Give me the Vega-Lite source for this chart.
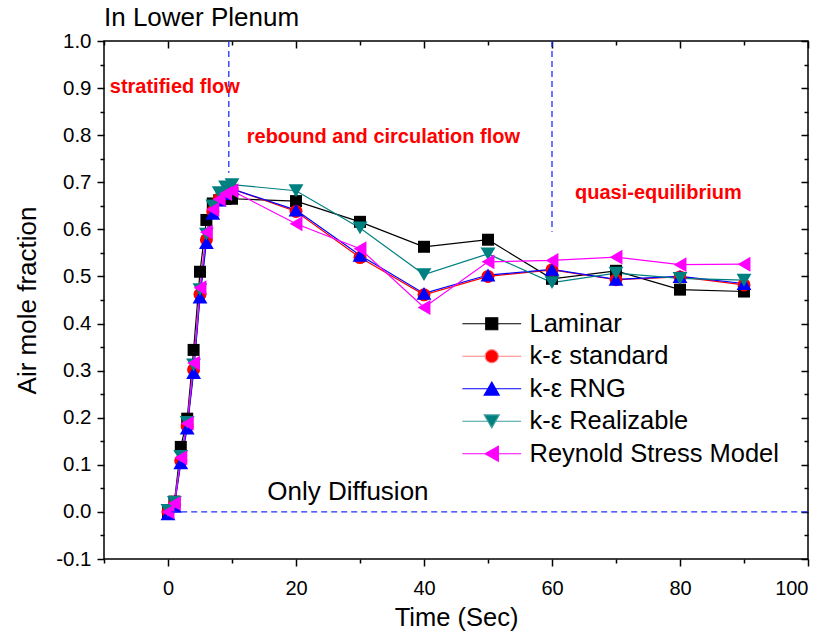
{
  "$schema": "https://vega.github.io/schema/vega-lite/v6.json",
  "width": 704,
  "height": 518,
  "autosize": {"type": "none"},
  "padding": {"left": 104, "top": 41, "right": 19, "bottom": 79},
  "config": {
    "font": "Liberation Sans",
    "view": {"stroke": "black", "strokeWidth": 1.5},
    "axis": {"grid": false, "domain": false, "tickColor": "black", "tickWidth": 1.5, "labelColor": "black", "titleColor": "black", "labelFont": "Liberation Sans", "titleFont": "Liberation Sans", "titleFontWeight": "normal"}
  },
  "datasets": {
    "series": [
      {"series": "Laminar", "t": 0, "v": 0}, {"series": "Laminar", "t": 1, "v": 0.022}, {"series": "Laminar", "t": 2, "v": 0.138}, {"series": "Laminar", "t": 3, "v": 0.198}, {"series": "Laminar", "t": 4, "v": 0.344}, {"series": "Laminar", "t": 5, "v": 0.51}, {"series": "Laminar", "t": 6, "v": 0.62}, {"series": "Laminar", "t": 7, "v": 0.655}, {"series": "Laminar", "t": 8, "v": 0.662}, {"series": "Laminar", "t": 9, "v": 0.665}, {"series": "Laminar", "t": 10, "v": 0.665}, {"series": "Laminar", "t": 20, "v": 0.66}, {"series": "Laminar", "t": 30, "v": 0.616}, {"series": "Laminar", "t": 40, "v": 0.563}, {"series": "Laminar", "t": 50, "v": 0.578}, {"series": "Laminar", "t": 60, "v": 0.495}, {"series": "Laminar", "t": 70, "v": 0.512}, {"series": "Laminar", "t": 80, "v": 0.472}, {"series": "Laminar", "t": 90, "v": 0.468},
      {"series": "k-ε standard", "t": 0, "v": 0}, {"series": "k-ε standard", "t": 1, "v": 0.015}, {"series": "k-ε standard", "t": 2, "v": 0.108}, {"series": "k-ε standard", "t": 3, "v": 0.182}, {"series": "k-ε standard", "t": 4, "v": 0.302}, {"series": "k-ε standard", "t": 5, "v": 0.462}, {"series": "k-ε standard", "t": 6, "v": 0.578}, {"series": "k-ε standard", "t": 7, "v": 0.638}, {"series": "k-ε standard", "t": 8, "v": 0.665}, {"series": "k-ε standard", "t": 9, "v": 0.678}, {"series": "k-ε standard", "t": 10, "v": 0.686}, {"series": "k-ε standard", "t": 20, "v": 0.638}, {"series": "k-ε standard", "t": 30, "v": 0.54}, {"series": "k-ε standard", "t": 40, "v": 0.461}, {"series": "k-ε standard", "t": 50, "v": 0.5}, {"series": "k-ε standard", "t": 60, "v": 0.514}, {"series": "k-ε standard", "t": 70, "v": 0.493}, {"series": "k-ε standard", "t": 80, "v": 0.499}, {"series": "k-ε standard", "t": 90, "v": 0.482},
      {"series": "k-ε RNG", "t": 0, "v": -0.004}, {"series": "k-ε RNG", "t": 1, "v": 0.012}, {"series": "k-ε RNG", "t": 2, "v": 0.104}, {"series": "k-ε RNG", "t": 3, "v": 0.178}, {"series": "k-ε RNG", "t": 4, "v": 0.296}, {"series": "k-ε RNG", "t": 5, "v": 0.456}, {"series": "k-ε RNG", "t": 6, "v": 0.572}, {"series": "k-ε RNG", "t": 7, "v": 0.634}, {"series": "k-ε RNG", "t": 8, "v": 0.662}, {"series": "k-ε RNG", "t": 9, "v": 0.676}, {"series": "k-ε RNG", "t": 10, "v": 0.686}, {"series": "k-ε RNG", "t": 20, "v": 0.641}, {"series": "k-ε RNG", "t": 30, "v": 0.545}, {"series": "k-ε RNG", "t": 40, "v": 0.464}, {"series": "k-ε RNG", "t": 50, "v": 0.503}, {"series": "k-ε RNG", "t": 60, "v": 0.515}, {"series": "k-ε RNG", "t": 70, "v": 0.494}, {"series": "k-ε RNG", "t": 80, "v": 0.5}, {"series": "k-ε RNG", "t": 90, "v": 0.485},
      {"series": "k-ε Realizable", "t": 0, "v": 0.003}, {"series": "k-ε Realizable", "t": 1, "v": 0.02}, {"series": "k-ε Realizable", "t": 2, "v": 0.118}, {"series": "k-ε Realizable", "t": 3, "v": 0.19}, {"series": "k-ε Realizable", "t": 4, "v": 0.312}, {"series": "k-ε Realizable", "t": 5, "v": 0.472}, {"series": "k-ε Realizable", "t": 6, "v": 0.59}, {"series": "k-ε Realizable", "t": 7, "v": 0.65}, {"series": "k-ε Realizable", "t": 8, "v": 0.678}, {"series": "k-ε Realizable", "t": 9, "v": 0.69}, {"series": "k-ε Realizable", "t": 10, "v": 0.695}, {"series": "k-ε Realizable", "t": 20, "v": 0.682}, {"series": "k-ε Realizable", "t": 30, "v": 0.603}, {"series": "k-ε Realizable", "t": 40, "v": 0.504}, {"series": "k-ε Realizable", "t": 50, "v": 0.548}, {"series": "k-ε Realizable", "t": 60, "v": 0.487}, {"series": "k-ε Realizable", "t": 70, "v": 0.507}, {"series": "k-ε Realizable", "t": 80, "v": 0.496}, {"series": "k-ε Realizable", "t": 90, "v": 0.492},
      {"series": "Reynold Stress Model", "t": 0, "v": 0}, {"series": "Reynold Stress Model", "t": 1, "v": 0.018}, {"series": "Reynold Stress Model", "t": 2, "v": 0.115}, {"series": "Reynold Stress Model", "t": 3, "v": 0.188}, {"series": "Reynold Stress Model", "t": 4, "v": 0.316}, {"series": "Reynold Stress Model", "t": 5, "v": 0.476}, {"series": "Reynold Stress Model", "t": 6, "v": 0.594}, {"series": "Reynold Stress Model", "t": 7, "v": 0.642}, {"series": "Reynold Stress Model", "t": 8, "v": 0.664}, {"series": "Reynold Stress Model", "t": 9, "v": 0.676}, {"series": "Reynold Stress Model", "t": 10, "v": 0.682}, {"series": "Reynold Stress Model", "t": 20, "v": 0.612}, {"series": "Reynold Stress Model", "t": 30, "v": 0.559}, {"series": "Reynold Stress Model", "t": 40, "v": 0.434}, {"series": "Reynold Stress Model", "t": 50, "v": 0.531}, {"series": "Reynold Stress Model", "t": 60, "v": 0.534}, {"series": "Reynold Stress Model", "t": 70, "v": 0.541}, {"series": "Reynold Stress Model", "t": 80, "v": 0.525}, {"series": "Reynold Stress Model", "t": 90, "v": 0.526}
    ],
    "vlines": [
      {"x": 9.5, "y": 1.0, "y2": 0.72},
      {"x": 60, "y": 1.0, "y2": 0.595}
    ],
    "hline": [
      {"x": 0.5, "x2": 100, "y": 0}
    ],
    "redtext": [
      {"x": -9.1, "y": 0.902, "label": "stratified flow"},
      {"x": 12.3, "y": 0.796, "label": "rebound and circulation flow"},
      {"x": 63.6, "y": 0.677, "label": "quasi-equilibrium"}
    ],
    "blacktext": [
      {"x": 15.5, "y": 0.042, "label": "Only Diffusion"},
      {"x": -10, "y": 1.049, "label": "In Lower Plenum"}
    ]
  },
  "resolve": {"axis": {"x": "independent", "y": "independent"}},
  "layer": [
    {
      "data": {"name": "series"},
      "mark": {"type": "line", "strokeWidth": 1.2},
      "encoding": {
        "x": {"field": "t", "type": "quantitative", "scale": {"domain": [-10, 100], "nice": false, "zero": false},
          "axis": {"orient": "bottom", "values": [0, 20, 40, 60, 80, 100], "tickSize": 7, "labelFontSize": 20, "labelPadding": 12, "title": "Time (Sec)", "titleFontSize": 25.5, "titlePadding": 7}},
        "y": {"field": "v", "type": "quantitative", "scale": {"domain": [-0.1, 1.0], "nice": false, "zero": false},
          "axis": {"orient": "left", "values": [-0.1, 0, 0.1, 0.2, 0.3, 0.4, 0.5, 0.6, 0.7, 0.8, 0.9, 1.0], "labelExpr": "replace(format(datum.value, '.1f'), '\u2212', '-')", "tickSize": 7, "labelFontSize": 20.5, "labelPadding": 6, "title": "Air mole fraction", "titleFontSize": 26, "titlePadding": 15}},
        "color": {"field": "series", "type": "nominal",
          "scale": {"range": ["#000000", "#ff00ff", "#0000ff", "#008080", "#ff0000"]}, "legend": null}
      }
    },
    {
      "data": {"name": "series"},
      "transform": [{"filter": {"field": "series", "equal": "Laminar"}}],
      "mark": {"type": "point", "filled": true, "opacity": 1, "shape": "square", "size": 144, "color": "#000000"},
      "encoding": {
        "x": {"field": "t", "type": "quantitative", "scale": {"domain": [-10, 100], "nice": false, "zero": false},
          "axis": {"orient": "bottom", "values": [-10, 10, 30, 50, 70, 90], "tickSize": 4, "labels": false, "title": null}},
        "y": {"field": "v", "type": "quantitative", "scale": {"domain": [-0.1, 1.0], "nice": false, "zero": false},
          "axis": {"orient": "left", "values": [-0.05, 0.05, 0.15, 0.25, 0.35, 0.45, 0.55, 0.65, 0.75, 0.85, 0.95], "tickSize": 4, "labels": false, "title": null}}
      }
    },
    {
      "data": {"name": "series"},
      "transform": [{"filter": {"field": "series", "equal": "k-ε standard"}}],
      "mark": {"type": "point", "filled": true, "opacity": 1, "shape": "circle", "size": 169, "color": "#ff0000"},
      "encoding": {
        "x": {"field": "t", "type": "quantitative", "scale": {"domain": [-10, 100], "nice": false, "zero": false}, "axis": null},
        "y": {"field": "v", "type": "quantitative", "scale": {"domain": [-0.1, 1.0], "nice": false, "zero": false}, "axis": null}
      }
    },
    {
      "data": {"name": "series"},
      "transform": [{"filter": {"field": "series", "equal": "k-ε RNG"}}],
      "mark": {"type": "point", "filled": true, "opacity": 1, "shape": "triangle-up", "size": 220, "color": "#0000ff"},
      "encoding": {
        "x": {"field": "t", "type": "quantitative", "scale": {"domain": [-10, 100], "nice": false, "zero": false}, "axis": null},
        "y": {"field": "v", "type": "quantitative", "scale": {"domain": [-0.1, 1.0], "nice": false, "zero": false}, "axis": null}
      }
    },
    {
      "data": {"name": "series"},
      "transform": [{"filter": {"field": "series", "equal": "k-ε Realizable"}}],
      "mark": {"type": "point", "filled": true, "opacity": 1, "shape": "triangle-down", "size": 220, "color": "#008080"},
      "encoding": {
        "x": {"field": "t", "type": "quantitative", "scale": {"domain": [-10, 100], "nice": false, "zero": false}, "axis": null},
        "y": {"field": "v", "type": "quantitative", "scale": {"domain": [-0.1, 1.0], "nice": false, "zero": false}, "axis": null}
      }
    },
    {
      "data": {"name": "series"},
      "transform": [{"filter": {"field": "series", "equal": "Reynold Stress Model"}}],
      "mark": {"type": "point", "filled": true, "opacity": 1, "shape": "triangle-left", "size": 220, "color": "#ff00ff"},
      "encoding": {
        "x": {"field": "t", "type": "quantitative", "scale": {"domain": [-10, 100], "nice": false, "zero": false}, "axis": null},
        "y": {"field": "v", "type": "quantitative", "scale": {"domain": [-0.1, 1.0], "nice": false, "zero": false}, "axis": null}
      }
    },
    {
      "data": {"name": "series"},
      "mark": {"type": "point", "opacity": 0, "filled": true},
      "encoding": {
        "x": {"field": "t", "type": "quantitative", "scale": {"domain": [-10, 100], "nice": false, "zero": false}, "axis": null},
        "y": {"field": "v", "type": "quantitative", "scale": {"domain": [-0.1, 1.0], "nice": false, "zero": false}, "axis": null},
        "fill": {"field": "series", "type": "nominal",
          "scale": {"domain": ["Laminar", "k-ε standard", "k-ε RNG", "k-ε Realizable", "Reynold Stress Model"], "range": ["#000000", "#ff0000", "#0000ff", "#007f7f", "#ff00ff"]},
          "legend": {"title": null, "orient": "none", "legendX": 375, "legendY": 270, "padding": 0, "symbolSize": 144, "symbolStrokeWidth": 1.2, "symbolOpacity": 1, "labelFontSize": 25.5, "labelFont": "Liberation Sans", "labelColor": "black", "labelOffset": 25, "labelLimit": 400, "rowPadding": 5.5}},
        "stroke": {"field": "series", "type": "nominal",
          "scale": {"domain": ["Laminar", "k-ε standard", "k-ε RNG", "k-ε Realizable", "Reynold Stress Model"], "range": ["#000000", "#ff8080", "#0000ff", "#40a0a0", "#ff00ff"]},
          "legend": {"title": null, "orient": "none", "legendX": 375, "legendY": 270, "padding": 0, "symbolSize": 144, "symbolStrokeWidth": 1.2, "symbolOpacity": 1, "labelFontSize": 25.5, "labelFont": "Liberation Sans", "labelColor": "black", "labelOffset": 25, "labelLimit": 400, "rowPadding": 5.5}},
        "shape": {"field": "series", "type": "nominal",
          "scale": {"domain": ["Laminar", "k-ε standard", "k-ε RNG", "k-ε Realizable", "Reynold Stress Model"], "range": ["M-4.9,0H4.9M-1,-1H1V1H-1Z", "M-4.9,0H-1.1M1.1,0H4.9M-1.1,0A1.1,1.1,0,1,1,1.1,0A1.1,1.1,0,1,1,-1.1,0Z", "M-4.9,0H4.9M0,-1.1L1.25,1.05L-1.25,1.05Z", "M-4.9,0H-0.6M0.6,0H4.9M0,1.1L1.25,-1.05L-1.25,-1.05Z", "M-4.9,0H4.9M-1.1,0L1.1,-1.25L1.1,1.25Z"]},
          "legend": {"title": null, "orient": "none", "legendX": 375, "legendY": 270, "padding": 0, "symbolSize": 144, "symbolStrokeWidth": 1.2, "symbolOpacity": 1, "labelFontSize": 25.5, "labelFont": "Liberation Sans", "labelColor": "black", "labelOffset": 25, "labelLimit": 400, "rowPadding": 5.5}}
      }
    },
    {
      "data": {"name": "vlines"},
      "mark": {"type": "rule", "strokeDash": [6, 4], "color": "#1f2fff", "strokeWidth": 1.3},
      "encoding": {
        "x": {"field": "x", "type": "quantitative", "scale": {"domain": [-10, 100], "nice": false, "zero": false},
          "axis": {"orient": "top", "values": [0, 20, 40, 60, 80, 100], "tickSize": 7, "offset": -7, "labels": false, "title": null}},
        "y": {"field": "y", "type": "quantitative", "scale": {"domain": [-0.1, 1.0], "nice": false, "zero": false},
          "axis": {"orient": "right", "values": [-0.1, 0, 0.1, 0.2, 0.3, 0.4, 0.5, 0.6, 0.7, 0.8, 0.9, 1.0], "tickSize": 7, "offset": -7, "labels": false, "title": null}},
        "y2": {"field": "y2"}
      }
    },
    {
      "data": {"name": "hline"},
      "mark": {"type": "rule", "strokeDash": [6, 4], "color": "#1f2fff", "strokeWidth": 1.3},
      "encoding": {
        "x": {"field": "x", "type": "quantitative", "scale": {"domain": [-10, 100], "nice": false, "zero": false},
          "axis": {"orient": "top", "values": [-10, 10, 30, 50, 70, 90], "tickSize": 4, "offset": -4, "labels": false, "title": null}},
        "x2": {"field": "x2"},
        "y": {"field": "y", "type": "quantitative", "scale": {"domain": [-0.1, 1.0], "nice": false, "zero": false},
          "axis": {"orient": "right", "values": [-0.05, 0.05, 0.15, 0.25, 0.35, 0.45, 0.55, 0.65, 0.75, 0.85, 0.95], "tickSize": 4, "offset": -4, "labels": false, "title": null}}
      }
    },
    {
      "data": {"name": "redtext"},
      "mark": {"type": "text", "align": "left", "baseline": "middle", "font": "Liberation Sans", "fontWeight": "bold", "fontSize": 20, "color": "#ff0000"},
      "encoding": {
        "x": {"field": "x", "type": "quantitative", "scale": {"domain": [-10, 100], "nice": false, "zero": false}, "axis": null},
        "y": {"field": "y", "type": "quantitative", "scale": {"domain": [-0.1, 1.0], "nice": false, "zero": false}, "axis": null},
        "text": {"field": "label"}
      }
    },
    {
      "data": {"name": "blacktext"},
      "mark": {"type": "text", "align": "left", "baseline": "middle", "font": "Liberation Sans", "fontSize": 26, "color": "#000000"},
      "encoding": {
        "x": {"field": "x", "type": "quantitative", "scale": {"domain": [-10, 100], "nice": false, "zero": false}, "axis": null},
        "y": {"field": "y", "type": "quantitative", "scale": {"domain": [-0.1, 1.0], "nice": false, "zero": false}, "axis": null},
        "text": {"field": "label"}
      }
    }
  ]
}
